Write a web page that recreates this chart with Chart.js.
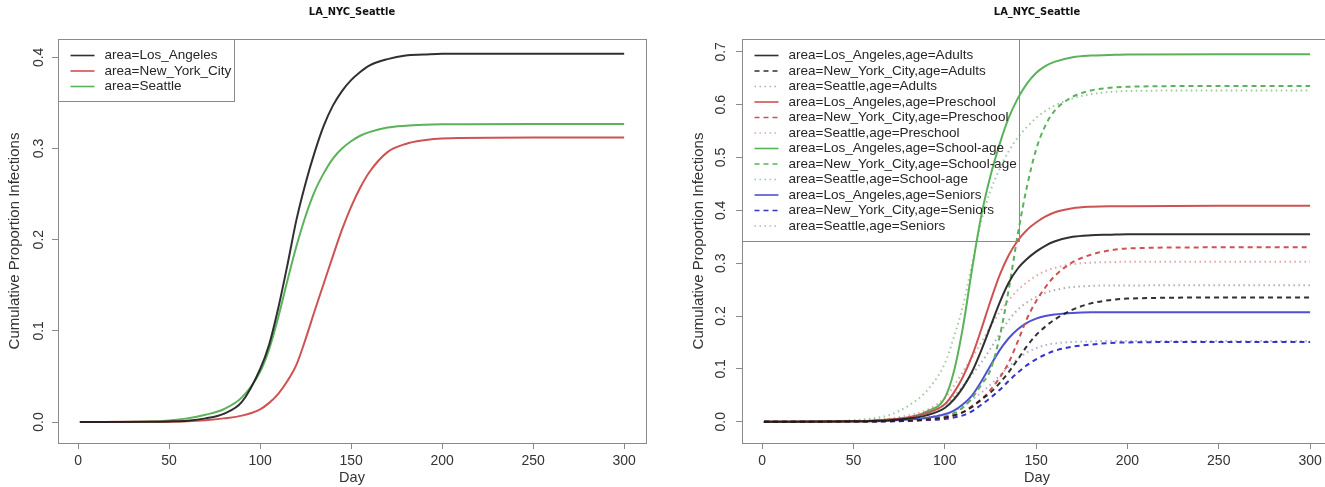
<!DOCTYPE html>
<html>
<head>
<meta charset="utf-8">
<script src="https://cdn.jsdelivr.net/npm/chart.js@4"></script>
<style>
  body { margin: 0; background: #fff; width: 1325px; height: 487px; overflow: hidden; position: relative; }
  #left { position: absolute; left: 0; top: 0; }
  #rightWrap { position: absolute; left: 662px; top: 0; width: 663px; height: 487px; overflow: hidden; }
</style>
</head>
<body>
<canvas id="left" width="662" height="487"></canvas>
<div id="rightWrap"><canvas id="right" width="686" height="487"></canvas></div>
<script>
// days
var days = [1, 40, 50, 60, 70, 80, 90, 100, 105, 110, 115, 120, 125, 130, 135, 140, 145, 150, 155, 160, 170, 180, 190, 200, 250, 300];

// left panel: by area
var laTotal  = [0, 0.0003, 0.0007, 0.0015, 0.004, 0.009, 0.022, 0.058, 0.085, 0.125, 0.172, 0.222, 0.262, 0.296, 0.325, 0.347, 0.363, 0.375, 0.384, 0.391, 0.398, 0.402, 0.403, 0.404, 0.404, 0.404];
var nycTotal = [0, 0.0002, 0.0003, 0.0008, 0.002, 0.004, 0.007, 0.014, 0.021, 0.031, 0.045, 0.063, 0.091, 0.122, 0.152, 0.182, 0.211, 0.236, 0.257, 0.274, 0.296, 0.305, 0.309, 0.311, 0.312, 0.312];
var seaTotal = [0, 0.0007, 0.0018, 0.004, 0.008, 0.014, 0.027, 0.055, 0.080, 0.115, 0.155, 0.193, 0.226, 0.253, 0.273, 0.289, 0.300, 0.308, 0.314, 0.318, 0.323, 0.325, 0.326, 0.3265, 0.327, 0.327];

// right panel: by area and age
var laAdults   = [0, 0.0004, 0.0008, 0.0015, 0.003, 0.006, 0.012, 0.026, 0.042, 0.065, 0.095, 0.135, 0.180, 0.225, 0.263, 0.290, 0.308, 0.322, 0.333, 0.341, 0.350, 0.353, 0.354, 0.355, 0.355, 0.355];
var nycAdults  = [0, 0.0002, 0.0003, 0.0005, 0.001, 0.002, 0.004, 0.008, 0.012, 0.018, 0.028, 0.042, 0.055, 0.073, 0.094, 0.118, 0.143, 0.164, 0.180, 0.193, 0.212, 0.224, 0.230, 0.233, 0.235, 0.235];
var seaAdults  = [0, 0.0004, 0.001, 0.002, 0.004, 0.008, 0.016, 0.032, 0.048, 0.068, 0.090, 0.112, 0.138, 0.166, 0.192, 0.212, 0.226, 0.236, 0.244, 0.249, 0.255, 0.257, 0.258, 0.258, 0.2585, 0.2585];
var laPre      = [0, 0.0005, 0.001, 0.002, 0.004, 0.008, 0.016, 0.033, 0.055, 0.085, 0.125, 0.175, 0.228, 0.277, 0.315, 0.343, 0.363, 0.377, 0.388, 0.396, 0.404, 0.407, 0.408, 0.408, 0.409, 0.409];
var nycPre     = [0, 0.0002, 0.0003, 0.0006, 0.001, 0.002, 0.004, 0.008, 0.012, 0.018, 0.030, 0.042, 0.060, 0.083, 0.112, 0.152, 0.195, 0.228, 0.254, 0.275, 0.302, 0.316, 0.324, 0.328, 0.330, 0.330];
var seaPre     = [0, 0.0005, 0.001, 0.003, 0.006, 0.012, 0.022, 0.045, 0.068, 0.095, 0.122, 0.150, 0.180, 0.207, 0.230, 0.249, 0.264, 0.276, 0.285, 0.291, 0.298, 0.301, 0.302, 0.303, 0.303, 0.303];
var laSchool   = [0, 0.0005, 0.001, 0.002, 0.004, 0.008, 0.019, 0.045, 0.095, 0.180, 0.290, 0.390, 0.465, 0.525, 0.575, 0.612, 0.640, 0.660, 0.673, 0.681, 0.690, 0.693, 0.694, 0.695, 0.6955, 0.6955];
var nycSchool  = [0, 0.0003, 0.0005, 0.001, 0.002, 0.003, 0.005, 0.010, 0.016, 0.027, 0.045, 0.070, 0.098, 0.160, 0.250, 0.355, 0.445, 0.515, 0.560, 0.588, 0.615, 0.627, 0.632, 0.634, 0.6355, 0.6356];
var seaSchool  = [0, 0.001, 0.003, 0.006, 0.013, 0.030, 0.058, 0.110, 0.160, 0.220, 0.300, 0.380, 0.437, 0.478, 0.512, 0.538, 0.558, 0.575, 0.588, 0.598, 0.612, 0.620, 0.624, 0.626, 0.627, 0.627];
var laSen      = [0, 0.0002, 0.0005, 0.001, 0.002, 0.004, 0.007, 0.014, 0.021, 0.033, 0.050, 0.076, 0.106, 0.135, 0.158, 0.175, 0.187, 0.195, 0.200, 0.203, 0.206, 0.207, 0.207, 0.207, 0.207, 0.207];
var nycSen     = [0, 0.0001, 0.0002, 0.0004, 0.0008, 0.0015, 0.003, 0.005, 0.008, 0.012, 0.020, 0.032, 0.045, 0.060, 0.077, 0.093, 0.107, 0.118, 0.127, 0.134, 0.142, 0.146, 0.149, 0.150, 0.151, 0.151];
var seaSen     = [0, 0.0002, 0.0005, 0.001, 0.002, 0.004, 0.008, 0.015, 0.020, 0.030, 0.042, 0.055, 0.070, 0.087, 0.104, 0.119, 0.131, 0.139, 0.145, 0.148, 0.151, 0.152, 0.153, 0.153, 0.153, 0.153];

var xTicks = [0, 50, 100, 150, 200, 250, 300];
var yTicksLeft = [0, 0.1, 0.2, 0.3, 0.4];
var yTicksRight = [0, 0.1, 0.2, 0.3, 0.4, 0.5, 0.6, 0.7];

var FONT = '"Liberation Sans", Arial, Helvetica, sans-serif';
Chart.defaults.font.family = FONT;
Chart.defaults.color = '#333';

function pts(vals) {
  return days.map(function (d, i) { return { x: d, y: vals[i] }; });
}

function line(label, vals, color, dash) {
  return {
    label: label,
    data: pts(vals),
    borderColor: color,
    borderWidth: 2,
    borderDash: dash || [],
    pointRadius: 0,
    cubicInterpolationMode: 'monotone',
    fill: false
  };
}

var DASH = [5, 4];
var DOT = [1.5, 3.5];
var cBlack = 'rgba(25,25,25,0.9)', cRed = '#cf5252', cGreen = '#5ab25a', cBlue = '#5050d4';

// box around plot + R-style legend in the top-left corner
var rFrame = {
  id: 'rFrame',
  afterDatasetsDraw: function (chart) {
    var ctx = chart.ctx, a = chart.chartArea;
    var sets = chart.data.datasets;
    ctx.save();
    ctx.strokeStyle = '#8a8a8a';
    ctx.lineWidth = 1;
    ctx.strokeRect(Math.round(a.left) + 0.5, Math.round(a.top) + 0.5, Math.round(a.right - a.left), Math.round(a.bottom - a.top));

    ctx.font = '13.5px ' + FONT;
    var w = 0;
    sets.forEach(function (d) { w = Math.max(w, ctx.measureText(d.label).width); });
    var lx = Math.round(a.left) + 0.5, ly = Math.round(a.top) + 0.5;
    ctx.strokeRect(lx, ly, Math.round(46 + w + 3), Math.round(16 + (sets.length - 1) * 15.5 + 15));
    sets.forEach(function (d, i) {
      var y = ly + 16 + i * 15.5;
      ctx.beginPath();
      ctx.setLineDash(d.borderDash);
      ctx.strokeStyle = d.borderColor;
      ctx.lineWidth = 1.6;
      ctx.moveTo(lx + 12, y);
      ctx.lineTo(lx + 36, y);
      ctx.stroke();
      ctx.setLineDash([]);
      ctx.fillStyle = '#262626';
      ctx.textBaseline = 'middle';
      ctx.fillText(d.label, lx + 46, y);
    });
    ctx.restore();
  }
};

function opts(yMin, yMax, yTicks, axisW, titlePad, tickPad) {
  return {
    responsive: false,
    animation: false,
    layout: { padding: { left: 0, right: 16, top: 0, bottom: 0 } },
    plugins: {
      legend: { display: false },
      tooltip: { enabled: false },
      title: {
        display: true,
        text: 'LA_NYC_Seattle',
        fullSize: false,
        color: '#111',
        font: { family: '"Liberation Sans Narrow", "DejaVu Sans Condensed", ' + FONT, size: 11, weight: 'bold' },
        padding: { top: 6, bottom: 19.8 }
      }
    },
    scales: {
      x: {
        type: 'linear',
        min: -11,
        max: 312,
        afterBuildTicks: function (s) { s.ticks = xTicks.map(function (v) { return { value: v }; }); },
        afterFit: function (s) { s.height = 44; },
        grid: { drawOnChartArea: false, tickLength: 6, color: '#8a8a8a' },
        border: { display: false },
        ticks: { font: { size: 14 }, padding: 4, maxRotation: 0 },
        title: { display: true, text: 'Day', font: { size: 14.5 }, padding: { top: 0, bottom: 0 } }
      },
      y: {
        min: yMin,
        max: yMax,
        afterBuildTicks: function (s) { s.ticks = yTicks.map(function (v) { return { value: v }; }); },
        afterFit: function (s) { s.width = axisW; },
        grid: { drawOnChartArea: false, tickLength: 6, color: '#8a8a8a' },
        border: { display: false },
        ticks: {
          font: { size: 14 },
          minRotation: 90,
          maxRotation: 90,
          crossAlign: 'center',
          padding: tickPad,
          callback: function (v) { return v.toFixed(1); }
        },
        title: { display: true, text: 'Cumulative Proportion Infections', font: { size: 15 }, padding: { top: titlePad, bottom: 0 } }
      }
    }
  };
}

new Chart(document.getElementById('left'), {
  type: 'line',
  data: {
    datasets: [
      line('area=Los_Angeles', laTotal, cBlack),
      line('area=New_York_City', nycTotal, cRed),
      line('area=Seattle', seaTotal, cGreen)
    ]
  },
  options: opts(-0.023, 0.4201, yTicksLeft, 58, 6, 3),
  plugins: [rFrame]
});

new Chart(document.getElementById('right'), {
  type: 'line',
  data: {
    datasets: [
      line('area=Los_Angeles,age=Adults', laAdults, cBlack),
      line('area=New_York_City,age=Adults', nycAdults, cBlack, DASH),
      line('area=Seattle,age=Adults', seaAdults, 'rgba(120,120,120,0.6)', DOT),
      line('area=Los_Angeles,age=Preschool', laPre, cRed),
      line('area=New_York_City,age=Preschool', nycPre, cRed, DASH),
      line('area=Seattle,age=Preschool', seaPre, 'rgba(200,110,110,0.6)', DOT),
      line('area=Los_Angeles,age=School-age', laSchool, cGreen),
      line('area=New_York_City,age=School-age', nycSchool, cGreen, DASH),
      line('area=Seattle,age=School-age', seaSchool, 'rgba(110,170,110,0.65)', DOT),
      line('area=Los_Angeles,age=Seniors', laSen, cBlue),
      line('area=New_York_City,age=Seniors', nycSen, '#3535c8', DASH),
      line('area=Seattle,age=Seniors', seaSen, 'rgba(130,130,200,0.65)', DOT)
    ]
  },
  options: opts(-0.0403, 0.7244, yTicksRight, 80, 28, 5),
  plugins: [rFrame]
});
</script>
</body>
</html>
